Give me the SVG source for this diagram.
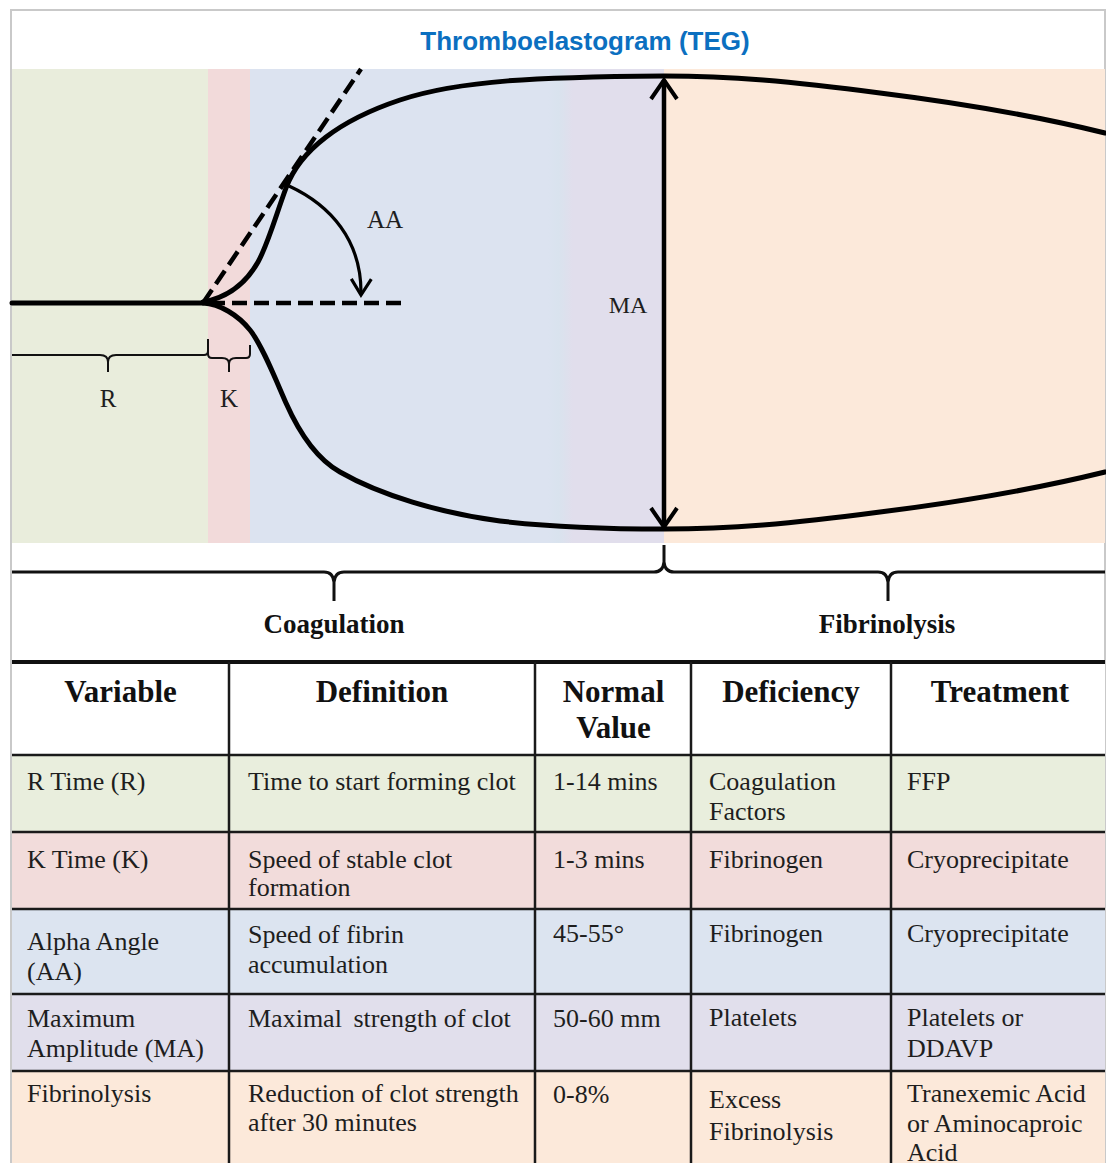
<svg xmlns="http://www.w3.org/2000/svg" width="1106" height="1163" viewBox="0 0 1106 1163">
<defs>
<style>
.serif{font-family:"Liberation Serif","Times New Roman",serif;fill:#1e1e1e}
.lbl{font-size:25px}
.cell{font-size:26px}
.hdr{font-size:31px;font-weight:bold;text-anchor:middle;fill:#111}
.phase{font-size:27px;font-weight:bold;text-anchor:middle;fill:#111}
.curve{fill:none;stroke:#000;stroke-width:5;stroke-linecap:round;stroke-linejoin:round}
.dash{fill:none;stroke:#000;stroke-width:4.5}
.brace{fill:none;stroke:#111;stroke-width:2}
.brace3{fill:none;stroke:#111;stroke-width:3}
.grid{stroke:#1a1a1a;stroke-width:2.5}
</style>
<linearGradient id="bp" gradientUnits="userSpaceOnUse" x1="250" y1="0" x2="664" y2="0">
<stop offset="0" stop-color="#DCE3F0"/>
<stop offset="0.72" stop-color="#DCE3F0"/>
<stop offset="0.745" stop-color="#D9E3EE"/>
<stop offset="0.78" stop-color="#E1DEEC"/>
<stop offset="1" stop-color="#E1DEEC"/>
</linearGradient>
<marker id="chevBig" viewBox="0 0 24 30" refX="21" refY="15" markerWidth="24" markerHeight="30" markerUnits="userSpaceOnUse" orient="auto-start-reverse" overflow="visible">
<path d="M2,2 L21,15 L2,28" fill="none" stroke="#000" stroke-width="4"/>
</marker>
<marker id="chevSmall" viewBox="0 0 20 22" refX="18" refY="11" markerWidth="20" markerHeight="22" markerUnits="userSpaceOnUse" orient="auto" overflow="visible">
<path d="M2,1 L18,11 L2,21" fill="none" stroke="#000" stroke-width="3.2"/>
</marker>
</defs>

<rect x="0" y="0" width="1106" height="1163" fill="#fff"/>
<rect id="frame" x="11" y="10" width="1094" height="1170" fill="#fff" stroke="#C9C9C9" stroke-width="2"/>

<g id="title">
<text x="585" y="50" text-anchor="middle" font-family="'Liberation Sans',Arial,sans-serif" font-size="26" font-weight="bold" fill="#0B6FC0">Thromboelastogram (TEG)</text>
</g>

<g id="bands">
<rect x="12" y="69" width="196" height="474" fill="#E9EDDC"/>
<rect x="208" y="69" width="42" height="474" fill="#F2DADA"/>
<rect x="250" y="69" width="414" height="474" fill="url(#bp)"/>
<rect x="664" y="69" width="441" height="474" fill="#FCE9DA"/>
</g>

<g id="tracing">
<path class="curve" d="M12,303 H203" stroke-linecap="butt"/>
<path class="curve" d="M203,302 C225,298 245,285 258,262 C268,244 276,215 286,188 C300,150 340,120 400,100 C460,80 540,77 664,76 C730,76 790,81 880,93 C960,103 1040,117 1105,133"/>
<path class="curve" d="M203,303 C220,304 238,315 250,330 C262,345 275,378 286,403 C298,430 315,458 340,472 C380,495 440,513 500,521 C560,528 620,529 664,529 C730,529 790,524 880,512 C960,502 1040,488 1105,472"/>
</g>

<g id="connectors">
<path class="dash" d="M203,303 L361,69" stroke-dasharray="16 7"/>
<path class="dash" d="M210,303 H408" stroke-dasharray="15 7"/>
<path id="aa-arrow" d="M289,186 C330,205 362,240 361,295" fill="none" stroke="#000" stroke-width="3.2" marker-end="url(#chevSmall)"/>
<path id="ma-arrow" d="M664,80 V527" fill="none" stroke="#000" stroke-width="4.5" marker-start="url(#chevBig)" marker-end="url(#chevBig)"/>
<path id="r-brace" class="brace" d="M12,355 H100 Q108,355 108,362 V372 M108,362 Q108,355 116,355 H204 Q208,355 208,351 V339"/>
<path id="k-brace" class="brace" d="M208,339 V354 Q208,358 212,358 H222 Q229,358 229,364 V372 M229,364 Q229,358 236,358 H246 Q250,358 250,354 V345"/>
<path id="phase-brace" class="brace3" d="M12,572 H324 Q333,572 334,582 V601 M334,582 Q335,572 344,572 H654 Q663,572 664,562 V545 M664,562 Q665,572 674,572 H878 Q887,572 888,582 V601 M888,582 Q889,572 898,572 H1105"/>
</g>

<g id="graph-labels" class="serif">
<text class="lbl" x="385" y="228" text-anchor="middle" font-size="23">AA</text>
<text class="lbl" x="628" y="313" text-anchor="middle" style="font-size:24px">MA</text>
<text class="lbl" x="108" y="407" text-anchor="middle">R</text>
<text class="lbl" x="229" y="407" text-anchor="middle">K</text>
<text class="phase" x="334" y="633">Coagulation</text>
<text class="phase" x="887" y="633">Fibrinolysis</text>
</g>

<g id="table">
<g id="row-header">
<rect x="12" y="663" width="1093" height="92" fill="#fff"/>
<text class="serif hdr" x="120.5" y="702">Variable</text>
<text class="serif hdr" x="382" y="702">Definition</text>
<text class="serif hdr" x="613.5" y="702">Normal</text>
<text class="serif hdr" x="613.5" y="738">Value</text>
<text class="serif hdr" x="791" y="702">Deficiency</text>
<text class="serif hdr" x="1000" y="702">Treatment</text>
</g>
<g id="row-r">
<rect x="12" y="755" width="1093" height="77" fill="#E9EEDD"/>
<text class="serif cell" x="27" y="790">R Time (R)</text>
<text class="serif cell" x="248" y="790">Time to start forming clot</text>
<text class="serif cell" x="553" y="790">1-14 mins</text>
<text class="serif cell" x="709" y="790">Coagulation</text>
<text class="serif cell" x="709" y="820">Factors</text>
<text class="serif cell" x="907" y="790">FFP</text>
</g>
<g id="row-k">
<rect x="12" y="832" width="1093" height="77" fill="#F2DCDB"/>
<text class="serif cell" x="27" y="868">K Time (K)</text>
<text class="serif cell" x="248" y="868">Speed of stable clot</text>
<text class="serif cell" x="248" y="896">formation</text>
<text class="serif cell" x="553" y="868">1-3 mins</text>
<text class="serif cell" x="709" y="868">Fibrinogen</text>
<text class="serif cell" x="907" y="868">Cryoprecipitate</text>
</g>
<g id="row-aa">
<rect x="12" y="909" width="1093" height="85" fill="#DCE4F0"/>
<text class="serif cell" x="27" y="950">Alpha Angle</text>
<text class="serif cell" x="27" y="980">(AA)</text>
<text class="serif cell" x="248" y="943">Speed of fibrin</text>
<text class="serif cell" x="248" y="973">accumulation</text>
<text class="serif cell" x="553" y="942">45-55°</text>
<text class="serif cell" x="709" y="942">Fibrinogen</text>
<text class="serif cell" x="907" y="942">Cryoprecipitate</text>
</g>
<g id="row-ma">
<rect x="12" y="994" width="1093" height="77" fill="#E1DFEC"/>
<text class="serif cell" x="27" y="1027">Maximum</text>
<text class="serif cell" x="27" y="1057">Amplitude (MA)</text>
<text class="serif cell" x="248" y="1027">Maximal <tspan dx="5">strength of clot</tspan></text>
<text class="serif cell" x="553" y="1027">50-60 mm</text>
<text class="serif cell" x="709" y="1026">Platelets</text>
<text class="serif cell" x="907" y="1026">Platelets or</text>
<text class="serif cell" x="907" y="1057">DDAVP</text>
</g>
<g id="row-fib">
<rect x="12" y="1071" width="1093" height="92" fill="#FCE9DA"/>
<text class="serif cell" x="27" y="1102">Fibrinolysis</text>
<text class="serif cell" x="248" y="1102">Reduction of clot strength</text>
<text class="serif cell" x="248" y="1131">after 30 minutes</text>
<text class="serif cell" x="553" y="1103">0-8%</text>
<text class="serif cell" x="709" y="1108">Excess</text>
<text class="serif cell" x="709" y="1140">Fibrinolysis</text>
<text class="serif cell" x="907" y="1102">Tranexemic Acid</text>
<text class="serif cell" x="907" y="1132">or Aminocaproic</text>
<text class="serif cell" x="907" y="1161">Acid</text>
</g>
<g id="grid">
<rect x="12" y="660" width="1093" height="4" fill="#111"/>
<line class="grid" x1="12" y1="755" x2="1105" y2="755"/>
<line class="grid" x1="12" y1="832" x2="1105" y2="832"/>
<line class="grid" x1="12" y1="909" x2="1105" y2="909"/>
<line class="grid" x1="12" y1="994" x2="1105" y2="994"/>
<line class="grid" x1="12" y1="1071" x2="1105" y2="1071"/>
<line class="grid" x1="229" y1="662" x2="229" y2="1163"/>
<line class="grid" x1="535" y1="662" x2="535" y2="1163"/>
<line class="grid" x1="691" y1="662" x2="691" y2="1163"/>
<line class="grid" x1="891" y1="662" x2="891" y2="1163"/>
</g>
</g>
</svg>
